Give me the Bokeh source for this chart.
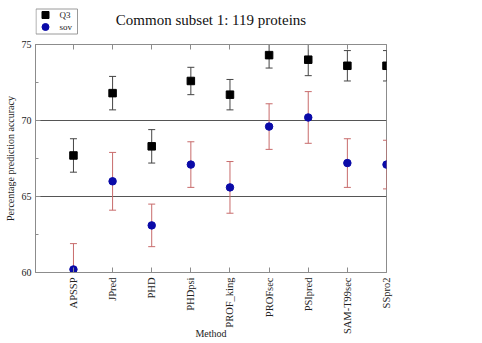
import math
from bokeh.plotting import figure
from bokeh.layouts import column
from bokeh.models import Range1d, FixedTicker, LinearAxis, ColumnDataSource
from bokeh.core.properties import value
from bokeh.embed import file_html
from bokeh.resources import INLINE

methods = ["APSSP", "JPred", "PHD", "PHDpsi", "PROF_king", "PROFsec", "PSIpred", "SAM-T99sec", "SSpro2"]
q3 = [67.7, 71.8, 68.3, 72.6, 71.7, 74.3, 74.0, 73.6, 73.6]
q3_err = [1.1, 1.1, 1.1, 0.9, 1.0, 0.85, 1.05, 1.0, 1.0]
sov = [60.2, 66.0, 63.1, 67.1, 65.6, 69.6, 70.2, 67.2, 67.1]
sov_err = [1.7, 1.9, 1.4, 1.5, 1.7, 1.5, 1.7, 1.6, 1.6]
y_ticks = [60, 65, 70, 75]
y_minor = [62.5, 67.5, 72.5]
grid_lines = [65, 70]
series_names = ["Q3", "sov"]

title_text = "Common subset 1: 119 proteins"
x_label = "Method"
y_label = "Percentage prediction accuracy"

FONT = "Liberation Serif"
AXC = "#8c8c8c"
Q3_COLOR = "black"
SOV_COLOR = "#0a0aa8"
W = 480
HEAD_H = 36
FRAME_L, FRAME_R = 35, 386

# ---------------- header: legend + title (frame aligned with main plot frame) ----------------
h = figure(width=W, height=HEAD_H, output_backend="svg", toolbar_location=None,
           x_range=Range1d(FRAME_L, FRAME_R), y_range=Range1d(HEAD_H, 0),
           min_border_left=0, min_border_right=0, min_border_top=0, min_border_bottom=0)
h.axis.visible = False
h.outline_line_color = None
h.background_fill_color = "white"
h.border_fill_color = "white"
h.xgrid.visible = False
h.ygrid.visible = False
h.quad(left=[35.5], right=[77], top=[8.5], bottom=[33.5], fill_color="white", line_color="#9a9a9a", line_width=1)
h.scatter(x=[45], y=[14.5], marker="square", size=7, fill_color=Q3_COLOR, line_color=Q3_COLOR)
h.scatter(x=[45], y=[26.5], marker="circle", size=7, fill_color=SOV_COLOR, line_color=SOV_COLOR)
h.text(x=[59, 59], y=[14.5, 26.5], text=series_names, text_font=value(FONT), text_font_size="9px",
       text_baseline="middle", text_align="left", text_color="#222222")
h.text(x=[210.5], y=[19.5], text=[title_text], text_font=value(FONT), text_font_size="15px",
       text_baseline="alphabetic", text_align="center", text_color="#111111")

# ---------------- main plot ----------------
xs = list(range(len(methods)))
src = ColumnDataSource(dict(
    x=xs, q3=q3, sov=sov,
    q3_lo=[v - e for v, e in zip(q3, q3_err)], q3_hi=[v + e for v, e in zip(q3, q3_err)],
    sov_lo=[v - e for v, e in zip(sov, sov_err)], sov_hi=[v + e for v, e in zip(sov, sov_err)],
))

MAIN_H = 307
p = figure(width=W, height=MAIN_H, output_backend="svg", toolbar_location=None,
           x_range=Range1d(-0.97, 8.0), y_range=Range1d(60, 75),
           min_border_left=FRAME_L, min_border_top=8, min_border_right=W - FRAME_R,
           min_border_bottom=MAIN_H - (272 - HEAD_H))
p.outline_line_color = AXC
p.background_fill_color = "white"
p.border_fill_color = "white"

p.xaxis.ticker = FixedTicker(ticks=xs)
p.xaxis.major_label_overrides = {i: m for i, m in enumerate(methods)}
p.xaxis.major_label_orientation = math.pi / 2
p.xaxis.major_label_text_font = FONT
p.xaxis.major_label_text_font_size = "10.5px"
p.xaxis.major_label_text_color = "#222222"
p.xaxis.major_label_standoff = 5
p.xaxis.major_tick_in = 5
p.xaxis.major_tick_out = 0
p.xaxis.minor_tick_line_color = None
p.xaxis.axis_line_color = AXC
p.xaxis.major_tick_line_color = AXC
p.xaxis.axis_label = x_label
p.xaxis.axis_label_text_font = FONT
p.xaxis.axis_label_text_font_size = "10px"
p.xaxis.axis_label_text_font_style = "normal"
p.xaxis.axis_label_text_color = "#222222"
p.xaxis.axis_label_standoff = -9

p.yaxis.ticker = FixedTicker(ticks=y_ticks, minor_ticks=y_minor)
p.yaxis.major_label_text_font = FONT
p.yaxis.major_label_text_font_size = "10px"
p.yaxis.major_label_text_color = "#222222"
p.yaxis.major_label_standoff = 4
p.yaxis.major_tick_in = 5
p.yaxis.major_tick_out = 0
p.yaxis.minor_tick_in = 3
p.yaxis.minor_tick_out = 0
p.yaxis.axis_line_color = AXC
p.yaxis.major_tick_line_color = AXC
p.yaxis.minor_tick_line_color = AXC
p.yaxis.axis_label = y_label
p.yaxis.axis_label_text_font = FONT
p.yaxis.axis_label_text_font_size = "10px"
p.yaxis.axis_label_text_font_style = "normal"
p.yaxis.axis_label_text_color = "#222222"
p.yaxis.axis_label_standoff = 3

# mirrored top axis: ticks only, no labels
top = LinearAxis(ticker=FixedTicker(ticks=xs), major_label_overrides={i: "" for i in xs},
                 major_label_text_font_size="10px",
                 major_tick_in=5, major_tick_out=0, minor_tick_line_color=None,
                 axis_line_color=AXC, major_tick_line_color=AXC, major_label_standoff=0)
p.add_layout(top, "above")

p.xgrid.visible = False
p.ygrid.ticker = FixedTicker(ticks=grid_lines)
p.ygrid.grid_line_color = "#555555"
p.ygrid.grid_line_width = 1

ERR_Q3 = "#444444"
ERR_SOV = "#c86b6b"
p.segment(x0="x", x1="x", y0="q3_lo", y1="q3_hi", source=src, line_color=ERR_Q3, line_width=1)
p.scatter(x="x", y="q3_lo", source=src, marker="dash", size=7, line_color=ERR_Q3)
p.scatter(x="x", y="q3_hi", source=src, marker="dash", size=7, line_color=ERR_Q3)
p.segment(x0="x", x1="x", y0="sov_lo", y1="sov_hi", source=src, line_color=ERR_SOV, line_width=1)
p.scatter(x="x", y="sov_lo", source=src, marker="dash", size=7, line_color=ERR_SOV)
p.scatter(x="x", y="sov_hi", source=src, marker="dash", size=7, line_color=ERR_SOV)

p.scatter(x="x", y="q3", source=src, marker="square", size=7.5,
          fill_color=Q3_COLOR, line_color=Q3_COLOR)
p.scatter(x="x", y="sov", source=src, marker="circle", size=7.5,
          fill_color=SOV_COLOR, line_color=SOV_COLOR)

layout = column(h, p, spacing=0)
open("out.html", "w").write(file_html(layout, INLINE))
